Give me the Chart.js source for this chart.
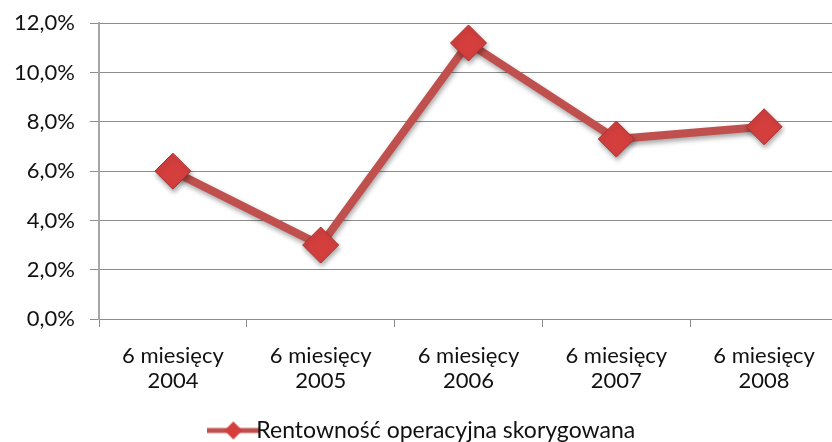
<!DOCTYPE html>
<html>
<head>
<meta charset="utf-8">
<script src="https://cdn.jsdelivr.net/npm/chart.js@4/dist/chart.umd.min.js"></script>
<style>
  html, body { margin: 0; padding: 0; background: #fff; overflow: hidden; }
  #wrap { width: 857px; height: 442px; }
</style>
</head>
<body>
<div id="wrap"><canvas id="rentChart" width="857" height="442"></canvas></div>
<script>
// ---------- data
var categories = [['6 miesięcy', '2004'], ['6 miesięcy', '2005'], ['6 miesięcy', '2006'], ['6 miesięcy', '2007'], ['6 miesięcy', '2008']];
var rentownosc = [6.0, 3.0, 11.2, 7.3, 7.8];
var seriesName = 'Rentowność operacyjna skorygowana';
var yTicks = [0, 2, 4, 6, 8, 10, 12];

var lineColor = '#C0504D';
var markerFill = '#D43F3E';
var markerBorder = '#A8312F';
var gridColor = '#8C8C8C';
var textColor = '#111111';
var fontFamily = 'Lato, "Open Sans", sans-serif';

// legend symbol: line with a diamond on it
function legendSymbol () {
    var c = document.createElement('canvas');
    c.width = 52; c.height = 22;
    var ctx = c.getContext('2d');
    ctx.strokeStyle = lineColor;
    ctx.lineWidth = 5;
    ctx.beginPath(); ctx.moveTo(0, 11); ctx.lineTo(52, 11); ctx.stroke();
    ctx.fillStyle = markerFill;
    ctx.beginPath();
    ctx.moveTo(26, 2); ctx.lineTo(35, 11); ctx.lineTo(26, 20); ctx.lineTo(17, 11); ctx.closePath();
    ctx.fill();
    return c;
}

// soft shadow under the series, like the original
var shadowPlugin = {
    id: 'shadow',
    beforeDatasetsDraw: function (chart) {
        var ctx = chart.ctx;
        ctx.save();
        ctx.shadowColor = 'rgba(0,0,0,0.35)';
        ctx.shadowBlur = 5;
        ctx.shadowOffsetX = 1;
        ctx.shadowOffsetY = 3;
    },
    afterDatasetsDraw: function (chart) {
        chart.ctx.restore();
    }
};

var rentChartCanvas = document.getElementById('rentChart').getContext('2d');

new Chart(rentChartCanvas, {
    type: 'line',
    data: {
        labels: categories,
        datasets: [{
            label: seriesName,
            data: rentownosc,
            borderColor: lineColor,
            backgroundColor: markerFill,
            borderWidth: 8,
            tension: 0,
            pointStyle: 'rectRot',
            pointRadius: 18,
            pointHoverRadius: 18,
            pointBackgroundColor: markerFill,
            pointBorderColor: markerBorder,
            pointBorderWidth: 1
        }]
    },
    options: {
        responsive: false,
        animation: false,
        layout: { padding: { top: 0, left: 0, right: 0, bottom: -10 } },
        plugins: {
            tooltip: { enabled: false },
            legend: {
                position: 'bottom',
                labels: {
                    usePointStyle: true,
                    pointStyle: legendSymbol(),
                    color: textColor,
                    font: { family: fontFamily, size: 23 },
                    padding: 0
                }
            }
        },
        scales: {
            x: {
                offset: true,
                afterFit: function (scale) { scale.height = 100; },
                grid: { offset: true, drawOnChartArea: false, drawTicks: true, tickLength: 8, color: gridColor },
                border: { color: gridColor, width: 1 },
                ticks: { color: textColor, font: { family: fontFamily, size: 22, lineHeight: 1.12 }, padding: 17, maxRotation: 0 }
            },
            y: {
                min: 0,
                max: 12,
                afterBuildTicks: function (scale) {
                    scale.ticks = yTicks.map(function (v) { return { value: v }; });
                },
                afterFit: function (scale) { scale.width = 99; },
                grid: { color: gridColor, drawTicks: true, tickLength: 9 },
                border: { color: '#A6A6A6', width: 2 },
                ticks: {
                    color: textColor,
                    font: { family: fontFamily, size: 22, lineHeight: 0.75 },
                    padding: 15,
                    callback: function (v) { return v.toFixed(1).replace('.', ',') + '%'; }
                }
            }
        }
    },
    plugins: [shadowPlugin]
});
</script>
</body>
</html>
